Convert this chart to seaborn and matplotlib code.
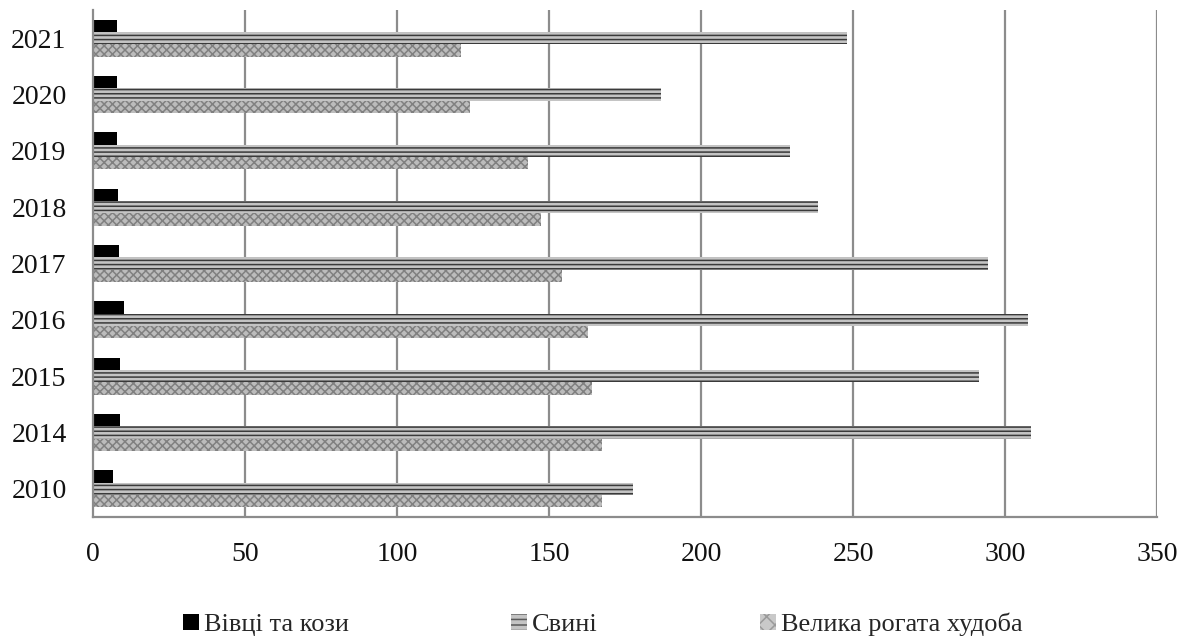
import matplotlib
matplotlib.use("Agg")
import matplotlib.pyplot as plt
import matplotlib.patches as mpatches
import seaborn as sns
import pandas as pd
import numpy as np

years = ["2021", "2020", "2019", "2018", "2017", "2016", "2015", "2014", "2010"]
sheep = [7.8, 7.8, 7.8, 8.1, 8.4, 10.1, 8.9, 8.9, 6.7]
pigs = [248.0, 186.8, 229.3, 238.3, 294.3, 307.4, 291.4, 308.6, 177.6]
cattle = [120.9, 124.1, 143.1, 147.2, 154.4, 162.9, 164.2, 167.5, 167.5]
series_names = ["Вівці та кози", "Свині", "Велика рогата худоба"]
xticks = [0, 50, 100, 150, 200, 250, 300, 350]

sns.set_theme(style="white")
plt.rcParams["font.family"] = ["Liberation Serif", "DejaVu Serif"]
plt.rcParams["hatch.linewidth"] = 1.1

df = pd.DataFrame({
    "year": years * 3,
    "value": sheep + pigs + cattle,
    "series": [series_names[0]] * len(years) + [series_names[1]] * len(years) + [series_names[2]] * len(years),
})

fig = plt.figure(figsize=(11.89, 6.42), dpi=100)
ax = fig.add_axes([0.0782, 0.1947, 0.8950, 0.7897])

sns.barplot(data=df, x="value", y="year", hue="series", order=years,
            hue_order=series_names, orient="h", width=0.66, dodge=True,
            ax=ax, legend=False, errorbar=None, saturation=1)

styles = [
    dict(facecolor="#000000", edgecolor="#000000", hatch=None),
    dict(facecolor="#c4c4c4", edgecolor="#3a3a3a", hatch="----"),
    dict(facecolor="#bcbcbc", edgecolor="#808080", hatch="xxxx"),
]
for cont, st in zip(ax.containers, styles):
    for bar in cont:
        bar.set_facecolor(st["facecolor"])
        bar.set_edgecolor(st["edgecolor"])
        bar.set_linewidth(0)
        if st["hatch"]:
            bar.set_hatch(st["hatch"])

ax.set_xlim(0, 350)
ax.set_ylim(len(years) - 0.5, -0.5)
ax.set_xticks(xticks)
ax.set_xticklabels([str(t) for t in xticks])
ax.set_xlabel("")
ax.set_ylabel("")

gc = "#8c8c8c"
ax.grid(False)
for t in xticks[1:]:
    ax.axvline(t, color=gc, lw=1.6, zorder=0)
ax.set_axisbelow(True)

for s in ["top", "right"]:
    ax.spines[s].set_visible(False)
for s in ["left", "bottom"]:
    ax.spines[s].set_color(gc)
    ax.spines[s].set_linewidth(1.6)

ax.set_yticks(np.arange(-0.5, len(years), 1.0), minor=True)
ax.tick_params(axis="y", which="major", length=0, labelsize=20, labelcolor="#111111", pad=19)
ax.tick_params(axis="y", which="minor", length=7, width=1.6, color=gc, direction="out")
ax.tick_params(axis="x", which="major", length=8, width=1.6, color=gc, direction="out",
               labelsize=20, labelcolor="#111111", pad=10)

handles = [
    mpatches.Patch(facecolor="#000000", edgecolor="#000000", linewidth=0),
    mpatches.Patch(facecolor="#c4c4c4", edgecolor="#5a5a5a", hatch="---", linewidth=0),
    mpatches.Patch(facecolor="#c9c9c9", edgecolor="#9a9a9a", hatch="xx", linewidth=0),
]
fig.legend(handles, series_names, loc="center", bbox_to_anchor=(0.507, 0.027), ncol=3,
           frameon=False, fontsize=19, handlelength=0.6, handleheight=0.6,
           handletextpad=0.2, columnspacing=6.15)

fig.savefig("out.png", dpi=100)
